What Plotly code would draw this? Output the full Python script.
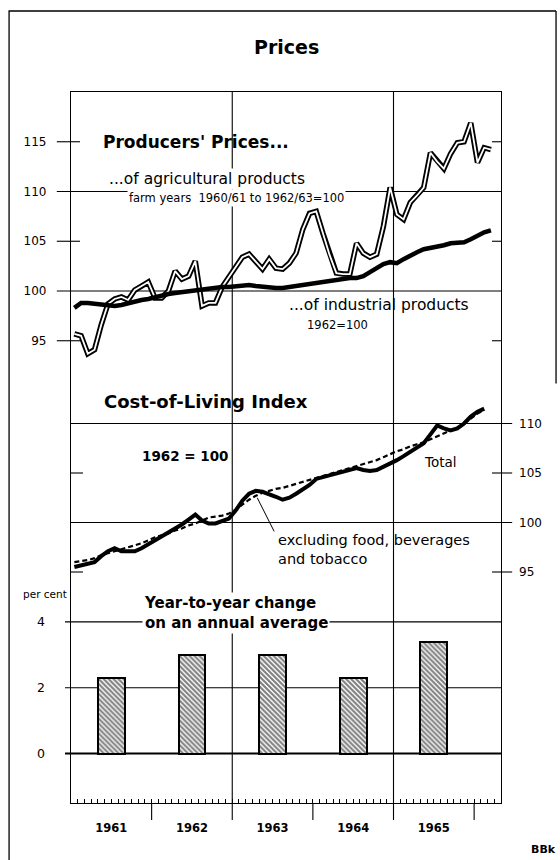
import plotly.graph_objects as go

FONT = "DejaVu Sans"

# ---------------- data ----------------
year_labels = ["1961", "1962", "1963", "1964", "1965"]
years = [1961, 1962, 1963, 1964, 1965]
n_months = 63  # Jan 1961 .. Mar 1966
month_pos = [1961 + (k + 0.5) / 12 for k in range(n_months)]

# Producers' prices of agricultural products (farm years 1960/61 to 1962/63 = 100)
agri = [95.7, 95.5, 93.7, 94.1, 96.6, 98.7, 99.2, 99.4, 99.1, 100.1, 100.5, 100.9,
        99.3, 99.3, 100.0, 102.0, 101.2, 101.5, 103.0, 98.5, 98.8, 98.8, 100.4, 101.4,
        102.3, 103.4, 103.7, 103.0, 102.2, 103.2, 102.3, 102.2, 102.8, 103.8, 106.2, 107.8,
        108.0, 105.8, 103.6, 101.8, 101.7, 101.7, 104.8, 103.8, 103.4, 103.7, 106.5, 110.4,
        107.7, 107.2, 108.9, 109.6, 110.4, 113.9, 113.0, 112.3, 113.8, 114.9, 115.0, 116.9,
        112.9, 114.4, 114.2]

# Producers' prices of industrial products (1962 = 100)
industrial = [98.3, 98.8, 98.8, 98.7, 98.6, 98.5, 98.5, 98.6, 98.8, 99.0, 99.1, 99.2,
              99.4, 99.5, 99.7, 99.8, 99.9, 100.0, 100.0, 100.1, 100.2, 100.3, 100.4, 100.4,
              100.5, 100.6, 100.6, 100.5, 100.4, 100.3, 100.3, 100.3, 100.4, 100.5, 100.6, 100.7,
              100.8, 101.0, 101.1, 101.2, 101.3, 101.3, 101.3, 101.5, 101.9, 102.3, 102.7, 102.9,
              102.8, 103.2, 103.6, 103.9, 104.2, 104.3, 104.4, 104.6, 104.8, 104.9, 104.9, 105.2,
              105.6, 105.9, 106.1]

# Cost-of-living index, total (1962 = 100)
col_total = [95.5, 95.7, 95.9, 96.0, 96.6, 97.1, 97.4, 97.1, 97.1, 97.1, 97.4, 97.8,
             98.2, 98.6, 99.0, 99.3, 99.8, 100.3, 100.8, 100.2, 99.9, 99.9, 100.1, 100.4,
             101.2, 102.2, 102.9, 103.2, 103.1, 102.9, 102.6, 102.3, 102.5, 102.9, 103.3, 103.8,
             104.4, 104.6, 104.8, 105.0, 105.1, 105.3, 105.5, 105.3, 105.2, 105.3, 105.6, 105.9,
             106.3, 106.7, 107.1, 107.5, 108.0, 108.9, 109.8, 109.5, 109.3, 109.5, 110.0, 110.7,
             111.2, 111.5]

# Cost-of-living index excluding food, beverages and tobacco
col_excl = [96.0, 96.1, 96.2, 96.4, 96.7, 96.9, 97.1, 97.3, 97.5, 97.7, 97.9, 98.2,
            98.5, 98.7, 98.9, 99.2, 99.4, 99.7, 99.9, 100.2, 100.5, 100.6, 100.7, 100.9,
            101.3, 101.8, 102.3, 102.7, 103.0, 103.2, 103.4, 103.5, 103.7, 103.9, 104.1, 104.3,
            104.5, 104.7, 104.9, 105.1, 105.3, 105.5, 105.7, 105.9, 106.1, 106.3, 106.6, 106.9,
            107.2, 107.4, 107.7, 107.9, 108.1, 108.4, 108.7, 109.0, 109.3, 109.6, 110.0, 110.5,
            111.0, 111.4]

# Year-to-year change on an annual average (per cent)
bar_values = [2.3, 3.0, 3.0, 2.3, 3.4]

upper_ticks = [95, 100, 105, 110, 115]
middle_ticks = [95, 100, 105, 110]
bar_ticks = [0, 2, 4]

# ---------------- figure ----------------
bar_x = [y + 0.5 for y in years]
col_months = month_pos[:len(col_total)]

fig = go.Figure()

fig.add_trace(go.Scatter(x=month_pos, y=agri, mode="lines", yaxis="y",
                         line=dict(color="black", width=5.5), hoverinfo="skip", showlegend=False))
fig.add_trace(go.Scatter(x=month_pos, y=agri, mode="lines", yaxis="y",
                         line=dict(color="white", width=1.8), hoverinfo="skip", showlegend=False))
fig.add_trace(go.Scatter(x=month_pos, y=industrial, mode="lines", yaxis="y",
                         line=dict(color="black", width=4.5), hoverinfo="skip", showlegend=False))
fig.add_trace(go.Scatter(x=col_months, y=col_excl, mode="lines", yaxis="y2",
                         line=dict(color="black", width=2.2, dash="5px,3px"),
                         hoverinfo="skip", showlegend=False))
fig.add_trace(go.Scatter(x=col_months, y=col_total, mode="lines", yaxis="y2",
                         line=dict(color="black", width=4), hoverinfo="skip", showlegend=False))
fig.add_trace(go.Bar(x=bar_x, y=bar_values, yaxis="y3", width=1 / 3,
                     marker=dict(color="black",
                                 line=dict(color="black", width=2),
                                 pattern=dict(shape="\\", fgcolor="black", bgcolor="white",
                                              size=3.5, solidity=0.6)),
                     hoverinfo="skip", showlegend=False))

tickfont = dict(family=FONT, size=12, color="black")

fig.update_layout(
    width=560, height=860,
    margin=dict(l=71, r=59, t=92, b=57),
    paper_bgcolor="white", plot_bgcolor="white",
    showlegend=False,
    bargap=0,
    xaxis=dict(range=[1961, 1966 + 1 / 3], showline=True, linecolor="black", linewidth=1.3,
               mirror=True, tickmode="array", tickvals=bar_x, ticktext=year_labels,
               ticks="", ticklabelstandoff=14, showgrid=False, zeroline=False,
               tickfont=dict(family=FONT, size=11.5, color="black", weight="bold"),
               minor=dict(tickmode="array",
                          tickvals=[1961 + k / 12 for k in range(1, 64)],
                          ticks="inside", ticklen=4, tickwidth=1, tickcolor="black",
                          showgrid=False)),
    yaxis=dict(range=[120 - 711 / 9.95, 120], showline=True, linecolor="black", linewidth=1.3,
               mirror=True, tickmode="array", tickvals=upper_ticks, ticks="",
               ticklabelstandoff=21, showgrid=False, zeroline=False, tickfont=tickfont),
    yaxis2=dict(overlaying="y", side="right", range=[100 - 280.5 / 9.9, 100 + 430.5 / 9.9],
                tickmode="array", tickvals=middle_ticks, ticks="", ticklabelstandoff=17,
                showgrid=False, zeroline=False, showline=False, tickfont=tickfont),
    yaxis3=dict(overlaying="y", side="left", range=[-49.5 / 32.9, 661.5 / 32.9],
                tickmode="array", tickvals=bar_ticks, ticks="", ticklabelstandoff=25,
                showgrid=False, zeroline=False, showline=False,
                tickfont=dict(family=FONT, size=12.5, color="black")),
)

shapes = []


def hline(yref, val, x0, x1, width=1.1):
    shapes.append(dict(type="line", xref="paper", yref=yref, x0=x0, x1=x1, y0=val, y1=val,
                       line=dict(color="black", width=width), layer="below"))


# upper panel: gridlines and crossing ticks
for v in [100, 110]:
    hline("y", v, -0.033, 1.0)
for v in [95, 105, 115]:
    hline("y", v, -0.033, 0.021)
    hline("y", v, 0.979, 1.0)
# middle panel
for v in [100, 110]:
    hline("y2", v, 0.0, 1.026)
for v in [95, 105]:
    hline("y2", v, 0.0, 0.028)
    hline("y2", v, 0.979, 1.026)
# bar panel
for v in [2, 4]:
    hline("y3", v, -0.014, 1.0)
hline("y3", 0, -0.014, 1.0, width=2.2)

# vertical gridlines at 1963 and 1965
for yr in [1963, 1965]:
    shapes.append(dict(type="line", xref="x", yref="paper", x0=yr, x1=yr, y0=0, y1=1,
                       line=dict(color="black", width=1.1), layer="below"))
# year separators below the time axis
for yr in [1962, 1963, 1964, 1965, 1966]:
    shapes.append(dict(type="line", xref="x", yref="paper", x0=yr, x1=yr, y0=0, y1=-0.024,
                       line=dict(color="black", width=1.1)))
# pointer to the dashed line
shapes.append(dict(type="line", xref="x", yref="y2", x0=1963.31, x1=1963.52, y0=102.5, y1=99.1,
                   line=dict(color="black", width=1)))
# outer frame
shapes.append(dict(type="path", xref="paper", yref="paper",
                   path="M -0.144,-0.09 L -0.144,1.1139 L 1.128,1.1139",
                   line=dict(color="black", width=1.3)))
shapes.append(dict(type="line", xref="paper", yref="paper", x0=1.128, x1=1.128,
                   y0=1.1139, y1=0.59, line=dict(color="black", width=1.3)))
fig.update_layout(shapes=shapes)


def note(text, x, y, size, bold=False, bg=None, xanchor="left", align="left"):
    kw = dict(text=("<b>%s</b>" % text) if bold else text, x=x, y=y, xref="paper", yref="paper",
              xanchor=xanchor, yanchor="middle", showarrow=False, align=align,
              font=dict(family=FONT, size=size, color="black"))
    if bg:
        kw.update(bgcolor=bg, borderpad=1)
    fig.add_annotation(**kw)


note("Prices", 0.5, 1.063, 19, bold=True, xanchor="center")
note("Producers' Prices...", 0.070, 0.930, 17, bold=True)
note("...of agricultural products", 0.083, 0.8776, 15.5, bg="white")
note("farm years  1960/61 to 1962/63=100", 0.130, 0.851, 11.5, bg="white")
note("...of industrial products", 0.502, 0.700, 15.5)
note("1962=100", 0.544, 0.672, 11.5)
note("Cost-of-Living Index", 0.072, 0.564, 18, bold=True)
note("1962 = 100", 0.160, 0.488, 13.5, bold=True)
note("Total", 0.816, 0.480, 13.5)
note("excluding food, beverages<br>and tobacco", 0.477, 0.356, 14.5)
note("Year-to-year change<br>on an annual average", 0.165, 0.267, 15, bold=True, bg="white")
note("per cent", -0.060, 0.294, 10.5, xanchor="center")
note("BBk", 1.098, -0.0647, 11, bold=True, xanchor="center")

# remove the default page margin so the 560x860 figure fills the window exactly
fig.write_html("out.html",
               config={"displayModeBar": False},
               post_script="document.body.style.margin='0';"
                           "document.documentElement.style.overflow='hidden';")
